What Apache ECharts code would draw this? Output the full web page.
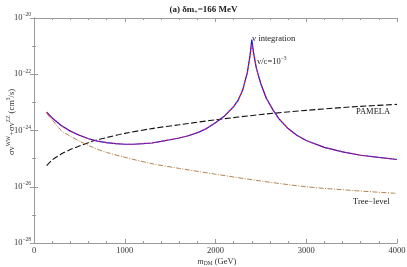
<!DOCTYPE html>
<html><head><meta charset="utf-8">
<script src="https://cdn.jsdelivr.net/npm/echarts@6/dist/echarts.min.js"></script>
<style>html,body{margin:0;padding:0;background:#fff}#c{width:407px;height:267px}</style>
</head><body><div id="c"></div>
<script>
// ---- data ----
const massSigma = [140,200,300,400,500,600,700,800,900,1000,1100,1200,1300,1400,1500,1600,1700,1800,1900,2000,2100,2200,2250,2300,2350,2380,2400,2420,2450,2500,2560,2640,2700,2800,2900,3000,3200,3400,3600,3800,4000];
const sigmaVIntegration = [4.5e-24,2.8e-24,1.5e-24,9.5e-25,6.8e-25,5.1e-25,4.2e-25,3.7e-25,3.4e-25,3.24e-25,3.24e-25,3.4e-25,3.6e-25,4.1e-25,4.7e-25,5.4e-25,6.5e-25,8.3e-25,1.17e-24,1.9e-24,3.3e-24,7.1e-24,1.2e-23,2.8e-23,1.12e-22,4.5e-22,1.7e-21,5.6e-22,1.66e-22,4.5e-23,1.4e-23,5.0e-24,2.6e-24,1.17e-24,6.6e-25,4.4e-25,2.5e-25,1.74e-25,1.32e-25,1.1e-25,9.3e-26];
const sigmaVc = [4.5e-24,2.8e-24,1.5e-24,9.5e-25,6.8e-25,5.1e-25,4.2e-25,3.7e-25,3.4e-25,3.24e-25,3.24e-25,3.4e-25,3.6e-25,4.1e-25,4.7e-25,5.4e-25,6.5e-25,8.3e-25,1.17e-24,1.9e-24,3.3e-24,7.1e-24,1.2e-23,2.8e-23,1.1e-22,4.2e-22,1.2e-21,5.2e-22,1.6e-22,4.5e-23,1.4e-23,5.0e-24,2.6e-24,1.17e-24,6.6e-25,4.4e-25,2.5e-25,1.74e-25,1.32e-25,1.1e-25,9.3e-26];
const massPamela = [140,200,300,400,500,650,800,1000,1300,1600,2000,2500,3000,3500,4000];
const pamela = [5.6e-26,8.9e-26,1.45e-25,2.1e-25,2.8e-25,4.2e-25,5.6e-25,7.9e-25,1.17e-24,1.6e-24,2.4e-24,3.7e-24,5.2e-24,6.9e-24,8.5e-24];
const massTree = [140,200,300,400,500,650,800,1000,1300,1600,2000,2500,3000,3500,4000];
const treeLevel = [4.0e-24,2.4e-24,1.0e-24,6.3e-25,4.2e-25,2.5e-25,1.66e-25,1.12e-25,6.6e-26,4.5e-26,2.8e-26,1.6e-26,1.0e-26,7.4e-27,5.8e-27];
const xTicks = [0,1000,2000,3000,4000];
const yTickExponents = [-28,-26,-24,-22,-20];

// y axis is drawn in decades (log10 of the value)
const pairs = (xs, ys) => xs.map((x, i) => [x, Math.log10(ys[i])]);
const FONT = '"Liberation Serif","DejaVu Serif",serif';
const sup = n => String(n).replace('-', '\u2212');
const GRAY = '#9a9a9a';
const supRich = {fontFamily: FONT, fontSize: 5.5, fill: '#333', color: '#333', verticalAlign: 'bottom', padding: [0,0,6,0]};

const chart = echarts.init(document.getElementById('c'), null, {renderer: 'canvas'});
const tick = {show: true, inside: true, length: 4, lineStyle: {color: GRAY}};
const line = {show: true, lineStyle: {color: GRAY, width: 1}};
chart.setOption({
  animation: false,
  backgroundColor: '#fff',
  title: {
    text: '(a) \u03b4m{s|+}=166 MeV',
    left: 'center', top: 0,
    textStyle: {fontFamily: FONT, fontSize: 9, fontWeight: 'bold', color: '#222',
      rich: {s: {fontFamily: FONT, fontSize: 6, fontWeight: 'bold', color: '#222', verticalAlign: 'bottom', padding: [4,0,0,0]}}}
  },
  grid: {left: 34, right: 10, top: 18, bottom: 24, containLabel: false, outerBoundsMode: 'none'},
  xAxis: [{
    type: 'value', min: 0, max: 4000, interval: 1000, position: 'bottom',
    axisLine: line, axisTick: tick, splitLine: {show: false},
    minorTick: {show: true, splitNumber: 5, length: 2, lineStyle: {color: GRAY}},
    axisLabel: {fontFamily: FONT, fontSize: 8.5, color: '#333', margin: 3,
      formatter: v => xTicks.includes(v) ? String(v) : ''}
  }, {
    type: 'value', min: 0, max: 4000, interval: 1000, position: 'top',
    axisLine: line, axisTick: tick, splitLine: {show: false},
    minorTick: {show: true, splitNumber: 5, length: 2, lineStyle: {color: GRAY}},
    axisLabel: {show: false}
  }],
  yAxis: [{
    type: 'value', min: -28, max: -20, interval: 2,
    axisLine: line, axisTick: tick, splitLine: {show: false},
    minorTick: {show: true, splitNumber: 2, length: 2, lineStyle: {color: GRAY}},
    axisLabel: {fontFamily: FONT, fontSize: 8.5, color: '#333', margin: 3,
      formatter: v => yTickExponents.includes(v) ? '10{s|' + sup(v) + '}' : '',
      rich: {s: supRich}}
  }, {
    type: 'value', min: -28, max: -20, interval: 2, position: 'right',
    axisLine: line, axisTick: tick, splitLine: {show: false},
    minorTick: {show: true, splitNumber: 2, length: 2, lineStyle: {color: GRAY}},
    axisLabel: {show: false}
  }],
  series: [
    {name: 'PAMELA', type: 'line', data: pairs(massPamela, pamela), showSymbol: false, smooth: 0.3,
      lineStyle: {color: '#111', width: 1.1, type: [6, 2.5]}},
    {name: 'Tree-level', type: 'line', data: pairs(massTree, treeLevel), showSymbol: false, smooth: 0.3,
      lineStyle: {color: '#b5834f', width: 1, type: [5, 1.5, 1, 1.5]}},
    {name: 'v integration', type: 'line', data: pairs(massSigma, sigmaVIntegration), showSymbol: false,
      lineStyle: {color: '#1010ff', width: 1.2}},
    {name: 'v/c=1e-3', type: 'line', data: pairs(massSigma, sigmaVc), showSymbol: false,
      lineStyle: {color: '#ff2020', width: 1.1, type: [1.5, 1.5]}}
  ],
  graphic: [
    {type: 'text', x: 12, y: 122, rotation: Math.PI / 2,
      style: {text: '\u03c3v{s|WW}+\u03c3v{s|ZZ} (cm{s|3}/s)', fontFamily: FONT, fontSize: 8.5, fill: '#333',
        align: 'center', verticalAlign: 'middle', rich: {s: supRich}}},
    {type: 'text', x: 217, y: 262,
      style: {text: '{i|m}{d|DM} (GeV)', fontFamily: FONT, fontSize: 8.5, fill: '#333', align: 'center', verticalAlign: 'middle',
        rich: {i: {fontFamily: FONT, fontStyle: 'italic', fontSize: 8.5, fill: '#333'},
               d: {fontFamily: FONT, fontSize: 5.5, fill: '#333', verticalAlign: 'top', padding: [4,0,0,0]}}}},
    {type: 'text', left: 252, top: 34, style: {text: 'v integration', fontFamily: FONT, fontSize: 8.5, fill: '#222'}},
    {type: 'text', left: 257, top: 56, style: {text: 'v/c=10{s|\u22123}', fontFamily: FONT, fontSize: 8.5, fill: '#222',
      rich: {s: supRich}}},
    {type: 'text', left: 356, top: 107, style: {text: 'PAMELA', fontFamily: FONT, fontSize: 8.5, fill: '#222'}},
    {type: 'text', left: 353, top: 197, style: {text: 'Tree\u2212level', fontFamily: FONT, fontSize: 8.5, fill: '#222'}}
  ]
});
</script></body></html>
